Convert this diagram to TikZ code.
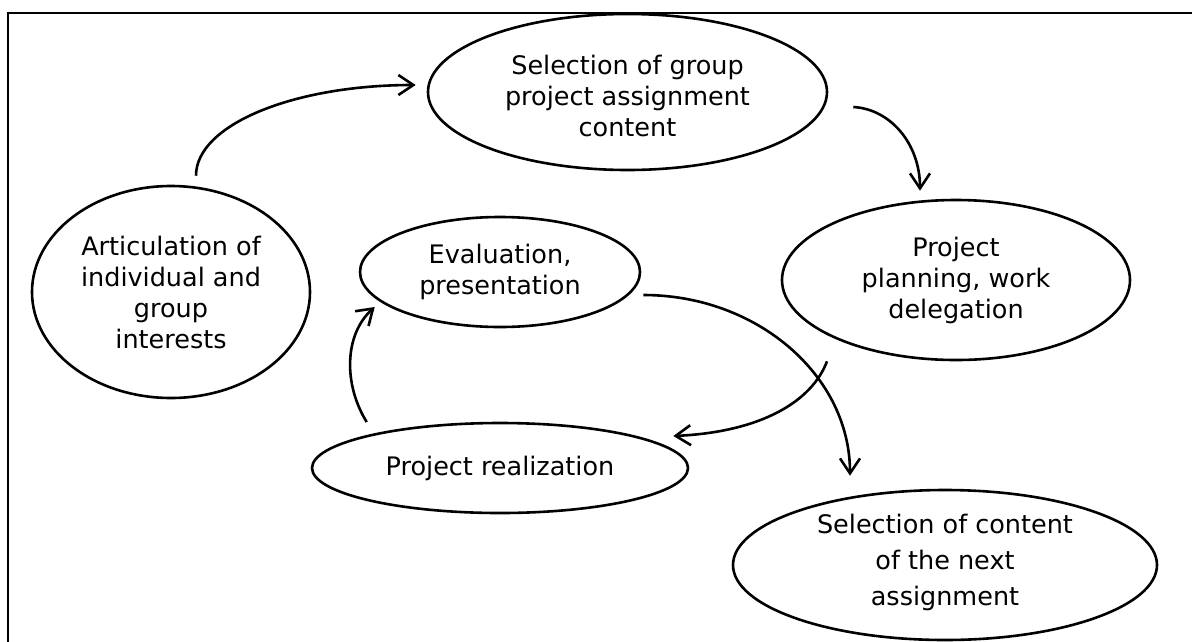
\documentclass[tikz,border=0pt]{standalone}
\usepackage{fontspec}
\setmainfont{DejaVu Sans}
\usetikzlibrary{shapes.geometric,arrows.meta}
\tikzset{
  oval/.style 2 args={draw, ellipse, line width=2.6pt, inner sep=0pt,
    minimum width=#1, minimum height=#2},
  lbl/.style={align=center, inner sep=0pt, font=\fontsize{25.5}{31}\selectfont},
  lblwide/.style={lbl, font=\fontsize{25.5}{36}\selectfont},
  flow/.style={line width=2.6pt, -{Straight Barb[length=15pt,width=20pt]}},
  frame/.style={line width=2.4pt}
}
\begin{document}
\begin{tikzpicture}[x=1pt,y=-1pt]
\useasboundingbox (0,0) rectangle (1192,641);
\fill[white] (0,0) rectangle (1192,641);

% frame (only top and left edges fall inside the page)
\draw[frame] (1200,13) -- (8,13) -- (8,650);

% stages
\node[oval={399pt}{156pt}] (selA) at (627.5,92) {};
\node[lbl] (selAt) at (627.5,96) {Selection of group\\project assignment\\content};

\node[oval={278pt}{212pt}] (artic) at (171,292) {};
\node[lbl] (artict) at (171,292) {Articulation of\\individual and\\group\\interests};

\node[oval={280pt}{110pt}] (eval) at (500,272) {};
\node[lbl] (evalt) at (500,272) {Evaluation,\\presentation};

\node[oval={348pt}{160pt}] (plan) at (956,280) {};
\node[lbl] (plant) at (956,280) {Project\\planning, work\\delegation};

\node[oval={376pt}{90pt}] (real) at (500,468) {};
\node[lbl] (realt) at (500,468) {Project realization};

\node[oval={424pt}{150pt}] (next) at (945,565) {};
\node[lblwide] (nextt) at (945,562) {Selection of content\\of the next\\assignment};

% cycle arrows
\draw[flow] ([shift={(25,-9)}]artic.north) .. controls +(0,-51) and +(-122,0) .. ([shift={(-11,-7)}]selA.west);
\draw[flow] ([shift={(25,15)}]selA.east) .. controls +(37,2) and +(0,-47) .. ([shift={(-36,-8)}]plan.north);
\draw[flow] ([shift={(-129,0)}]plan.south) .. controls +(-15,40) and +(88,-4) .. ([shift={(-16,-32)}]real.east);
\draw[flow] ([shift={(56,-46)}]real.west) .. controls +(-23,-37) and +(-31,28) .. ([shift={(16,35)}]eval.west);
\draw[flow] ([shift={(2,23)}]eval.east) .. controls +(114,0) and +(0,-100) .. ([shift={(-95,-13)}]next.north);
\end{tikzpicture}
\end{document}
